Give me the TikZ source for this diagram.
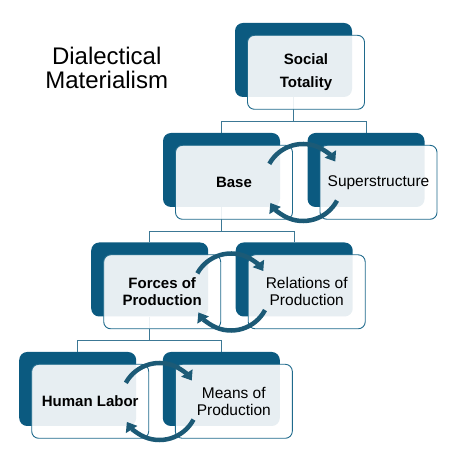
\documentclass[tikz,border=0pt]{standalone}
\usepackage{fontspec}
\setmainfont{Liberation Sans}
\usetikzlibrary{arrows.meta,calc}
\pgfdeclarelayer{bg}
\pgfsetlayers{bg,main}
\definecolor{darkbox}{HTML}{0B5A80}
\definecolor{edgeblue}{HTML}{1F6A8C}
\definecolor{linkblue}{HTML}{3C7895}
\definecolor{cycblue}{HTML}{1C5A76}
\begin{document}
\begin{tikzpicture}[x=1pt,y=1pt,
 backbox/.style={rectangle, rounded corners=8pt, fill=darkbox, minimum width=117pt, minimum height=74pt, inner sep=0pt},
 frontbox/.style={rectangle, rounded corners=7pt, draw=edgeblue, line width=0.9pt, fill=white, fill opacity=0.9, text opacity=1, draw opacity=1, minimum width=117pt, minimum height=74pt, inner sep=0pt, align=center, font=\fontsize{15.5}{17}\selectfont},
 boldbox/.style={frontbox, font=\fontsize{15}{17}\selectfont\bfseries},
 link/.style={draw=linkblue, line width=0.9pt},
 cyc/.style={draw=cycblue, line width=4.5pt, arrows={-Triangle[width=13pt,length=9pt]}}
]
\useasboundingbox (0,0) rectangle (460,463);
\node[align=center, inner sep=0pt, font=\fontsize{24}{24}\selectfont] (title) at (106.7,395) {Dialectical\\Materialism};
% back boxes
\node[backbox] (d1) at (293.5,403) {};
\node[backbox] (d2l) at (221.5,293) {};
\node[backbox] (d2r) at (366,293) {};
\node[backbox] (d3l) at (149.7,183.5) {};
\node[backbox] (d3r) at (294.2,183.5) {};
\node[backbox] (d4l) at (77.7,74) {};
\node[backbox] (d4r) at (221.3,74) {};
% front boxes
\node[boldbox] (f1) at ($(d1)+(12.5,-12.3)$) {Social\\[6pt]Totality};
\node[boldbox] (f2l) at ($(d2l)+(12.5,-12.3)$) {Base};
\node[frontbox] (f2r) at ($(d2r)+(12.5,-12.3)$) {Superstructure};
\node[boldbox] (f3l) at ($(d3l)+(12.5,-12.3)$) {Forces of\\Production};
\node[frontbox] (f3r) at ($(d3r)+(12.5,-12.3)$) {Relations of\\Production};
\node[boldbox] (f4l) at ($(d4l)+(12.5,-12.3)$) {Human Labor};
\node[frontbox] (f4r) at ($(d4r)+(12.5,-12.3)$) {Means of\\Production};
% connectors
\begin{pgfonlayer}{bg}
\draw[link] (d1.south) -- ++(0,-24) coordinate (j1);
\draw[link] (d2l.north) |- (j1) -| (d2r.north);
\draw[link] (d2l.south) -- ++(0,-24) coordinate (j2);
\draw[link] (d3l.north) |- (j2) -| (d3r.north);
\draw[link] (d3l.south) -- ++(0,-24) coordinate (j3);
\draw[link] (d4l.north) |- (j3) -| (d4r.north);
\end{pgfonlayer}
% cycle arrows
\coordinate (c2) at (303,280.5);
\coordinate (c3) at (231,171);
\coordinate (c4) at (159.5,61.5);
\foreach \c in {c2,c3,c4}{
  \draw[cyc] ($(\c)+(151:38.5)$) arc[start angle=151, end angle=33, radius=38.5pt];
  \draw[cyc] ($(\c)+(-28:38.5)$) arc[start angle=-28, end angle=-148, radius=38.5pt];
}
\end{tikzpicture}
\end{document}
